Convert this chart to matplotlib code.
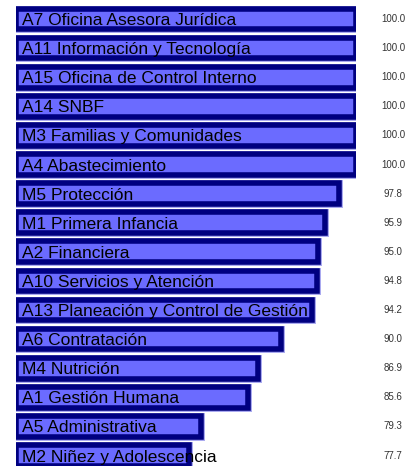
import matplotlib
matplotlib.use("Agg")
import matplotlib.pyplot as plt
import numpy as np

categories = [
    "A7 Oficina Asesora Jurídica",
    "A11 Información y Tecnología",
    "A15 Oficina de Control Interno",
    "A14 SNBF",
    "M3 Familias y Comunidades",
    "A4 Abastecimiento",
    "M5 Protección",
    "M1 Primera Infancia",
    "A2 Financiera",
    "A10 Servicios y Atención",
    "A13 Planeación y Control de Gestión",
    "A6 Contratación",
    "M4 Nutrición",
    "A1 Gestión Humana",
    "A5 Administrativa",
    "M2 Niñez y Adolescencia",
]
values = [100.0, 100.0, 100.0, 100.0, 100.0, 100.0, 97.8, 95.9, 95.0, 94.8,
          94.2, 90.0, 86.9, 85.6, 79.3, 77.7]

plt.rcParams['font.family'] = ['Liberation Sans', 'DejaVu Sans']

W, H = 407, 466
fig = plt.figure(figsize=(W / 100, H / 100), dpi=100)
left_px, right_px = 15.5, 355.5
ax = fig.add_axes([left_px / W, 0, (right_px - left_px) / W, 1])

base = min(values) * 0.7
vals = np.array(values)
y = np.arange(len(categories))

ax.barh(y, vals - base, left=base, height=0.71, color='#6B6BFF',
        edgecolor='#A8A8F0', linewidth=5.0, zorder=1)
ax.barh(y, vals - base, left=base, height=0.71, color='#6B6BFF',
        edgecolor='#000080', linewidth=4.0, zorder=2)

for i, (c, v) in enumerate(zip(categories, values)):
    ax.text(base + (22 - left_px) / 7.47, i, c, ha='left', va='center_baseline',
            fontsize=12.5, color='black', zorder=3)
    ax.text(1.11, i, f"{v:.1f}", transform=ax.get_yaxis_transform(),
            ha='center', va='center', fontsize=7, color='#333333')

ax.set_xlim(base, 100)
ax.set_ylim(15.36, -0.653)
ax.axis('off')

fig.savefig("out.png", dpi=100)
